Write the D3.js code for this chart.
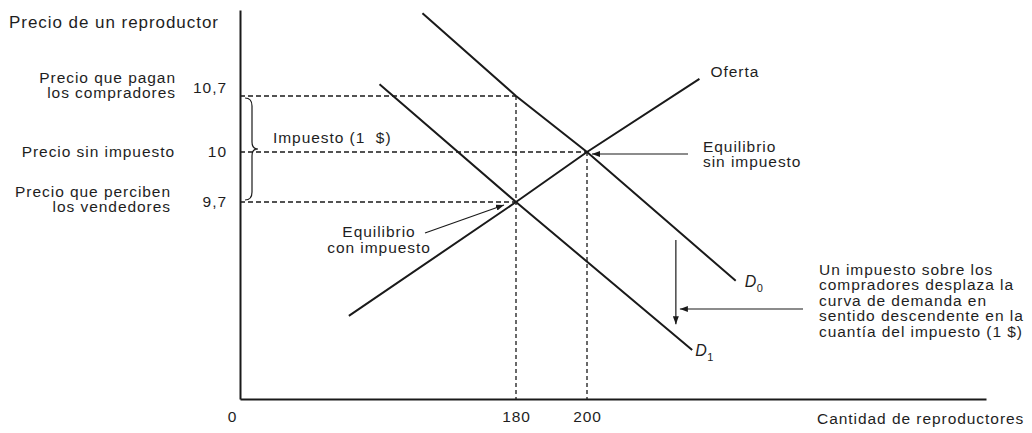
<!DOCTYPE html>
<html>
<head>
<meta charset="utf-8">
<script src="https://cdn.jsdelivr.net/npm/d3@7"></script>
<style>
  html, body { margin: 0; padding: 0; background: #fff; }
  svg text { font-family: "Liberation Sans", Arial, sans-serif; fill: #1e1e1e; letter-spacing: 0.95px; }
</style>
</head>
<body>
<svg id="chart" width="1032" height="433"></svg>
<script>
// ---- data ----
const priceTicks = [9.7, 10, 10.7];
const qtyTicks = [0, 180, 200];
const supply  = [[71, 8.63], [180, 9.7], [200, 10], [231, 10.86]];
const demand0 = [[119, 11.47], [180, 10.7], [200, 10], [241, 8.96]];
const demand1 = [[91, 10.81], [180, 9.7], [229, 8.31]];
const hGuides = [{q: 180, p: 10.7}, {q: 200, p: 10}, {q: 180, p: 9.7}];
const vGuides = [{q: 180, p: 10.7}, {q: 200, p: 10}];
const priceLabels = [
  {p: 10.7, lines: ["Precio que pagan", "los compradores"]},
  {p: 10,   lines: ["Precio sin impuesto"]},
  {p: 9.7,  lines: ["Precio que perciben", "los vendedores"]}
];
const eqNoTax = {q: 200, p: 10, lines: ["Equilibrio", "sin impuesto"]};
const eqTax   = {q: 180, p: 9.7, lines: ["Equilibrio", "con impuesto"]};
const taxLabel = "Impuesto (1\u00a0\u00a0$)";
const noteLines = ["Un impuesto sobre los", "compradores desplaza la", "curva de demanda en",
                   "sentido descendente en la", "cuantía del impuesto (1\u00a0$)"];
const yTitle = "Precio de un reproductor";
const xTitle = "Cantidad de reproductores";
const supplyName = "Oferta";
const shiftQty = 224.5;

// ---- scales ----
const x = d3.scaleLinear().domain([0, 180, 200, 310]).range([240, 516, 587, 986]);
const y = d3.scaleLinear().domain([7.85, 9.7, 10, 10.7, 11.5]).range([399, 202, 152, 96, 10]);

const svg = d3.select("#chart");
const ink = "#1a1a1a";

const defs = svg.append("defs");
defs.append("marker").attr("id", "ah")
  .attr("markerUnits", "userSpaceOnUse")
  .attr("markerWidth", 8).attr("markerHeight", 6)
  .attr("refX", 8).attr("refY", 3).attr("orient", "auto")
  .append("path").attr("d", "M0,0 L8,3 L0,6 Z").attr("fill", ink);

// guides
svg.selectAll(".hg").data(hGuides).join("line")
  .attr("x1", x(0)).attr("x2", d => x(d.q))
  .attr("y1", d => y(d.p)).attr("y2", d => y(d.p))
  .attr("stroke", ink).attr("stroke-width", 1.3).attr("stroke-dasharray", "5,3");
svg.selectAll(".vg").data(vGuides).join("line")
  .attr("x1", d => x(d.q)).attr("x2", d => x(d.q))
  .attr("y1", d => y(d.p)).attr("y2", y(7.85))
  .attr("stroke", ink).attr("stroke-width", 1.3).attr("stroke-dasharray", "4,3");

// axes
const fs = "15.5px";
const yAxis = svg.append("g").attr("transform", `translate(${x(0)},0)`)
  .call(d3.axisLeft(y).tickValues(priceTicks).tickSize(0).tickSizeOuter(0).tickPadding(13)
    .tickFormat(d => String(d).replace(".", ",")));
yAxis.select(".domain").attr("stroke", ink).attr("stroke-width", 2);
yAxis.selectAll("text").style("font-size", fs).attr("fill", "#1e1e1e")
  .attr("dy", d => d === 10.7 ? "-0.2em" : "0.32em");

const xAxis = svg.append("g").attr("transform", `translate(0,${y(7.85)})`)
  .call(d3.axisBottom(x).tickValues(qtyTicks).tickSize(0).tickSizeOuter(0).tickPadding(12));
xAxis.select(".domain").attr("stroke", ink).attr("stroke-width", 2);
xAxis.selectAll("text").style("font-size", fs).attr("fill", "#1e1e1e")
  .attr("x", d => d === 0 ? -8 : 0);

// curves
const line = d3.line().x(d => x(d[0])).y(d => y(d[1]));
[supply, demand0, demand1].forEach(s => {
  svg.append("path").attr("d", line(s)).attr("fill", "none")
    .attr("stroke", ink).attr("stroke-width", 2);
});

// axis titles
svg.append("text").attr("x", 9).attr("y", 28).style("font-size", "17px").text(yTitle);
svg.append("text").attr("x", 817).attr("y", 424).style("font-size", fs).text(xTitle);

// price labels on left
const blockShift = [-13, 5, -5];
const blockRight = [176, 175, 171];
priceLabels.forEach((pl, i) => {
  const t = svg.append("text").attr("text-anchor", "end").style("font-size", fs);
  pl.lines.forEach((ln, j) => {
    t.append("tspan").attr("x", blockRight[i]).attr("y", y(pl.p) + blockShift[i] + j * 15).text(ln);
  });
});

// brace for tax
const bx = x(0) + 5, bTop = y(10.7) + 2, bBot = y(9.7) - 2, bMid = y(10) - 3;
svg.append("path")
  .attr("d", `M${bx},${bTop} Q${bx + 7},${bTop} ${bx + 7},${bTop + 8} L${bx + 7},${bMid - 7} Q${bx + 7},${bMid} ${bx + 13},${bMid}` +
             ` Q${bx + 7},${bMid} ${bx + 7},${bMid + 7} L${bx + 7},${bBot - 8} Q${bx + 7},${bBot} ${bx},${bBot}`)
  .attr("fill", "none").attr("stroke", ink).attr("stroke-width", 1.2);
svg.append("text").attr("x", 273).attr("y", y(10) - 9).style("font-size", fs).text(taxLabel);

// supply label
svg.append("text").attr("x", x(supply[supply.length - 1][0]) + 11).attr("y", y(supply[supply.length - 1][1]) - 2)
  .style("font-size", fs).text(supplyName);

// equilibrium without tax
const e1 = svg.append("text").style("font-size", fs);
eqNoTax.lines.forEach((ln, j) => e1.append("tspan").attr("x", 703).attr("y", y(eqNoTax.p) + j * 15).text(ln));
svg.append("line").attr("x1", 688).attr("y1", y(eqNoTax.p) + 2).attr("x2", x(eqNoTax.q) + 5).attr("y2", y(eqNoTax.p) + 2)
  .attr("stroke", ink).attr("stroke-width", 1.2).attr("marker-end", "url(#ah)");

// equilibrium with tax
const e2 = svg.append("text").attr("text-anchor", "middle").style("font-size", fs);
eqTax.lines.forEach((ln, j) => e2.append("tspan").attr("x", 379).attr("y", y(eqTax.p) + 35 + j * 16).text(ln));
svg.append("line").attr("x1", 425).attr("y1", y(eqTax.p) + 31).attr("x2", x(eqTax.q) - 12).attr("y2", y(eqTax.p) + 3)
  .attr("stroke", ink).attr("stroke-width", 1.2).attr("marker-end", "url(#ah)");

// demand labels
function lastPt(s) { return s[s.length - 1]; }
function dLabel(s, sub, dx, dy) {
  const px = x(lastPt(s)[0]) + dx, py = y(lastPt(s)[1]) + dy;
  svg.append("text").attr("x", px).attr("y", py).style("font-size", "16px").style("font-style", "italic").text("D");
  svg.append("text").attr("x", px + 12).attr("y", py + 5).style("font-size", "11px").text(sub);
}
dLabel(demand0, "0", 9, 6);
dLabel(demand1, "1", 3, 6);

// shift arrow: pixel interpolation on curves
function yAtPx(s, px) {
  const pts = s.map(d => [x(d[0]), y(d[1])]);
  for (let i = 0; i < pts.length - 1; i++) {
    if (px >= pts[i][0] && px <= pts[i + 1][0]) {
      const t = (px - pts[i][0]) / (pts[i + 1][0] - pts[i][0]);
      return pts[i][1] + t * (pts[i + 1][1] - pts[i][1]);
    }
  }
  return pts[pts.length - 1][1];
}
const sx = x(shiftQty);
svg.append("line").attr("x1", sx).attr("x2", sx)
  .attr("y1", yAtPx(demand0, sx) + 11).attr("y2", yAtPx(demand1, sx) - 12)
  .attr("stroke", ink).attr("stroke-width", 1.2).attr("marker-end", "url(#ah)");
svg.append("line").attr("x1", 803).attr("x2", sx + 4).attr("y1", 309).attr("y2", 309)
  .attr("stroke", ink).attr("stroke-width", 1.2).attr("marker-end", "url(#ah)");

// note text
const nt = svg.append("text").style("font-size", fs);
noteLines.forEach((ln, j) => nt.append("tspan").attr("x", 819).attr("y", 274.5 + j * 15.5).text(ln));
</script>
</body>
</html>
